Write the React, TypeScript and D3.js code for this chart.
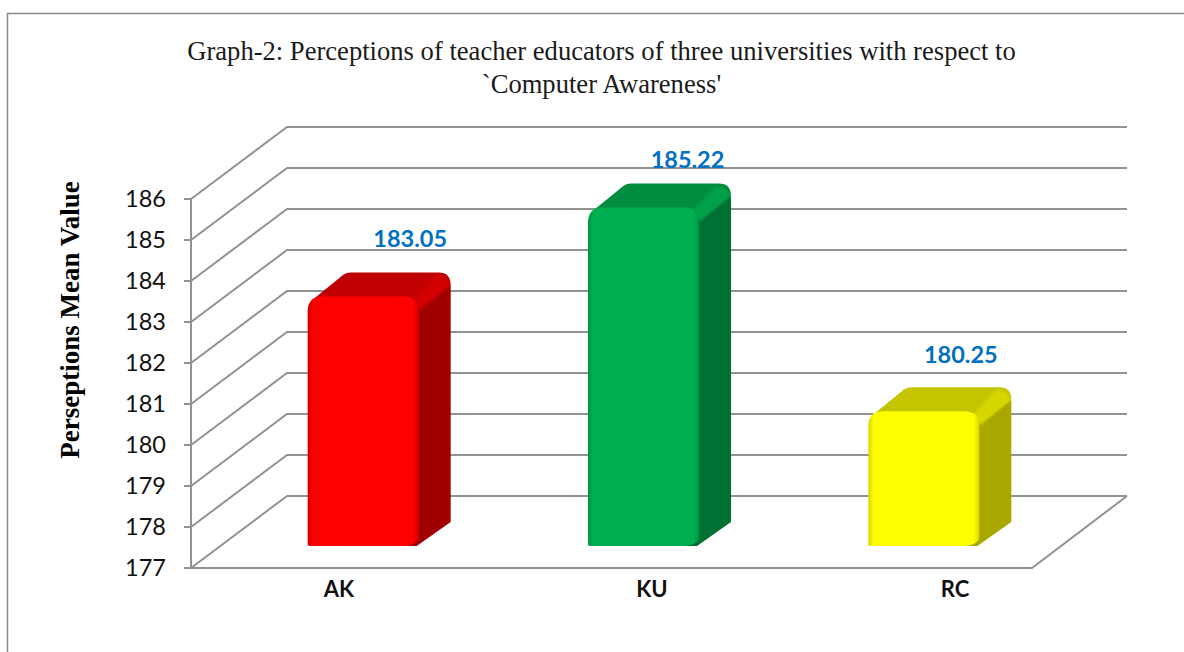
import React from "react";
import * as d3 from "d3";

const categories = ["AK", "KU", "RC"];
const values = [183.05, 185.22, 180.25];
const valueLabels = ["183.05", "185.22", "180.25"];
const yTicks = [177, 178, 179, 180, 181, 182, 183, 184, 185, 186];
const titleLines = [
  "Graph-2: Perceptions of teacher educators of three universities with respect to",
  "`Computer Awareness'",
];
const yTitle = "Perseptions Mean Value";
const palettes = [
  { front: "#ff0000", edge: "#cc0000", top: "#c00000", side: "#a00000", glow: "#d20000", rim: "#ff1a1a" },
  { front: "#00b050", edge: "#009444", top: "#008d40", side: "#007033", glow: "#00a048", rim: "#00c45a" },
  { front: "#ffff00", edge: "#d6d600", top: "#c4c400", side: "#a8a800", glow: "#d6d600", rim: "#ffff00" },
];

const W = 1184, H = 652;
const grid = "#929292";
const sans = "Lato, sans-serif";
const serif = "'Liberation Serif', serif";
const floorLeft = 191, floorRight = 1032, deepX = 96, deepY = 72;
const barInset = 22, topLift = 1.5, barDepthX = 32, barDepthY = 24;

const y = d3.scaleLinear().domain([177, 186]).range([568, 199]);
const x = d3.scaleBand<string>().domain(categories).range([floorLeft, floorRight]).paddingInner(0.604).paddingOuter(0.302);
const labelX = d3.scaleOrdinal<string, number>().domain(categories).range([339, 652, 955]);
const valueOffsetX = [47, 44, 37];
const valueOffsetY = [-25, -15, -24];

function frontPath(x0: number, x1: number, t: number, b: number) {
  const r = 15, p = d3.path();
  p.moveTo(x0, b - 1);
  p.lineTo(x0, t + r);
  p.quadraticCurveTo(x0, t, x0 + r, t);
  p.lineTo(x1 - r, t);
  p.quadraticCurveTo(x1, t, x1, t + r);
  p.lineTo(x1, b - 8);
  p.quadraticCurveTo(x1 - 3, b, x1 - 18, b);
  p.lineTo(x0 + 6, b);
  p.quadraticCurveTo(x0, b, x0, b - 1);
  p.closePath();
  return p.toString();
}

function topPath(x0: number, x1: number, t: number) {
  const p = d3.path();
  p.moveTo(x0 + 4, t + 4);
  p.lineTo(x0 + barDepthX + 4, t - barDepthY + 2);
  p.quadraticCurveTo(x0 + barDepthX + 7, t - barDepthY, x0 + barDepthX + 11, t - barDepthY);
  p.lineTo(x1 + barDepthX - 12, t - barDepthY);
  p.quadraticCurveTo(x1 + barDepthX, t - barDepthY, x1 + barDepthX, t - barDepthY + 13);
  p.lineTo(x1, t + 12);
  p.closePath();
  return p.toString();
}

function sidePath(x1: number, t: number, b: number) {
  const p = d3.path();
  p.moveTo(x1 - 2, t + 8);
  p.lineTo(x1 + barDepthX - 2, t - barDepthY + 9);
  p.lineTo(x1 + barDepthX, t - barDepthY + 14);
  p.lineTo(x1 + barDepthX, b - barDepthY);
  p.lineTo(x1 - 2, b);
  p.lineTo(x1 - 14, b);
  p.closePath();
  return p.toString();
}

function glowPath(x1: number, t: number) {
  const p = d3.path();
  p.moveTo(x1 - 6, t + 3);
  p.lineTo(x1 + barDepthX - 16, t - barDepthY + 3);
  p.quadraticCurveTo(x1 + barDepthX - 3, t - barDepthY + 3, x1 + barDepthX - 1, t - barDepthY + 13);
  p.lineTo(x1 + 1, t + 14);
  p.closePath();
  return p.toString();
}

export default function App() {
  return (
    <svg width={W} height={H} viewBox={`0 0 ${W} ${H}`} style={{ position: "absolute", left: 0, top: 0, background: "#fff" }}>
      <defs>
        <filter id="soft" x="-20%" y="-20%" width="140%" height="140%">
          <feGaussianBlur stdDeviation="1.3" />
        </filter>
        {palettes.map((c, i) => (
          <linearGradient key={i} id={`bar${i}`} x1="0" x2="1" y1="0" y2="0">
            <stop offset="0" stopColor={c.edge} />
            <stop offset="0.05" stopColor={c.front} />
            <stop offset="0.95" stopColor={c.front} />
            <stop offset="1" stopColor={c.edge} />
          </linearGradient>
        ))}
      </defs>

      <path d={`M7.5 652V13.5H${W}`} fill="none" stroke="#8a8a8a" strokeWidth={1.5} />

      {titleLines.map((t, i) => (
        <text key={i} x={601.5} y={60 + i * 33} textAnchor="middle" fontFamily={serif} fontSize={26.6} fill="#1a1a1a">{t}</text>
      ))}

      <g fill="none" stroke={grid} strokeWidth={2}>
        {yTicks.map((v) => (
          <path key={v} d={`M${floorLeft - 7} ${y(v)}H${floorLeft}L${floorLeft + deepX} ${y(v) - deepY}H${floorRight + deepX - 1}`} />
        ))}
        <path d={`M${floorLeft} ${y(186)}V${y(177)}H${floorRight}L${floorRight + deepX - 1} ${y(177) - deepY}`} />
      </g>

      {yTicks.map((v) => (
        <text key={v} x={166} y={y(v)} dy="0.36em" textAnchor="end" fontFamily={sans} fontSize={23.5} fill="#111">{v}</text>
      ))}

      <text transform="translate(79 320) rotate(-90)" textAnchor="middle" fontFamily={serif} fontWeight="bold" fontSize={27} fill="#000">{yTitle}</text>

      {categories.map((c, i) => {
        const x0 = (x(c) as number) + barDepthX;
        const x1 = x0 + x.bandwidth();
        const t = y(values[i]) - barInset - topLift;
        const b = y(177) - barInset;
        const col = palettes[i];
        return (
          <g key={c}>
            <path d={sidePath(x1, t, b)} fill={col.side} />
            <path d={topPath(x0, x1, t)} fill={col.top} />
            <path d={glowPath(x1, t)} fill={col.glow} filter="url(#soft)" />
            <path d={frontPath(x0, x1, t, b)} fill={`url(#bar${i})`} />
            <path d={`M${x0 + 8} ${t + 5}H${x1 - 8}`} stroke={col.rim} strokeWidth={6} fill="none" filter="url(#soft)" />
            <text x={(x0 + x1) / 2 + valueOffsetX[i]} y={t - barDepthY + valueOffsetY[i]} textAnchor="middle" fontFamily={sans} fontWeight="bold" fontSize={23.5} fill="#0070c0">{valueLabels[i]}</text>
            <text x={labelX(c)} y={597} textAnchor="middle" fontFamily={sans} fontWeight="bold" fontSize={22} fill="#111">{c}</text>
          </g>
        );
      })}
    </svg>
  );
}
